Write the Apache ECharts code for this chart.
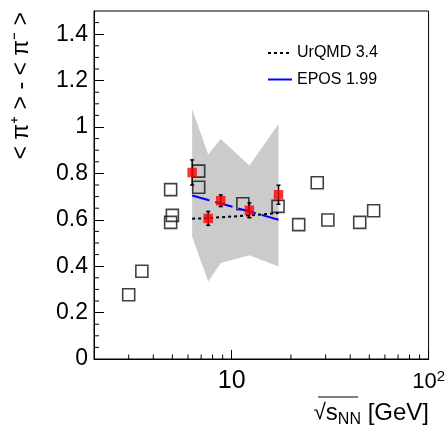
<!DOCTYPE html>
<html><head><meta charset="utf-8">
<script src="https://cdn.jsdelivr.net/npm/echarts@6/dist/echarts.min.js"></script>
<style>html,body{margin:0;padding:0;background:#fff}#c{width:448px;height:432px}</style>
</head><body><div id="c"></div>
<script>
// ---- data ----
const otherX = [3.0, 3.5, 4.9, 5.0, 4.9, 6.8, 6.8, 11.4, 17.2, 21.9, 27.2, 30.8, 44.7, 52.6];
const otherY = [0.277, 0.378, 0.730, 0.619, 0.589, 0.810, 0.740, 0.669, 0.658, 0.579, 0.760, 0.599, 0.589, 0.639];
const na49X = [6.3, 7.6, 8.8, 12.3, 17.3];
const na49Y = [0.804, 0.606, 0.682, 0.641, 0.708];
const na49Err = [0.054, 0.030, 0.025, 0.032, 0.041];
const bandUpper = [1.078, 0.881, 0.948, 0.834, 1.013];
const bandLower = [0.528, 0.334, 0.414, 0.447, 0.399];
const urqmdY = [0.605, 0.607, 0.611, 0.619, 0.629];
const eposY = [0.705, 0.685, 0.670, 0.636, 0.600];
const xMinorTicks = [3, 4, 5, 6, 7, 8, 9, 20, 30, 40, 50, 60, 70, 80, 90];
const yMinorTicks = [0.05,0.1,0.15,0.25,0.3,0.35,0.45,0.5,0.55,0.65,0.7,0.75,0.85,0.9,0.95,1.05,1.1,1.15,1.25,1.3,1.35,1.45];

const FONT = '"Liberation Sans", Arial, Helvetica, sans-serif';
const chart = echarts.init(document.getElementById('c'), null, {renderer: 'canvas'});

function tickSeries(vals, isX) {
  return {
    type: 'custom', silent: true, clip: false, z: 5,
    data: vals.map(v => isX ? [v, 0] : [2, v]),
    renderItem: (params, api) => {
      const p = api.coord([api.value(0), api.value(1)]);
      const shape = isX ? {x1: p[0], y1: p[1], x2: p[0], y2: p[1] - 4.5}
                        : {x1: p[0], y1: p[1], x2: p[0] + 5, y2: p[1]};
      return {type: 'line', shape, style: {stroke: '#000', lineWidth: 1}};
    }
  };
}

const option = {
  animation: false,
  backgroundColor: '#fff',
  grid: {left: 94, right: 19, top: 11, bottom: 73, show: true, borderColor: '#000', borderWidth: 1, backgroundColor: 'transparent'},
  xAxis: {
    type: 'log', logBase: 10, min: 2, max: 100,
    axisLine: {lineStyle: {color: '#000', width: 1}},
    axisTick: {inside: true, length: 9, lineStyle: {color: '#000'}},
    splitLine: {show: false},
    axisLabel: {
      color: '#000', fontFamily: FONT, fontSize: 25, margin: 10,
      formatter: v => Math.abs(v - 10) < 0.01 ? '10' : (Math.abs(v - 100) < 0.1 ? '{m|10}{s|2}' : ''),
      rich: {m: {fontSize: 22, fontFamily: FONT, color: '#000'}, s: {fontSize: 15, fontFamily: FONT, color: '#000', verticalAlign: 'top', padding: [0,0,10,0]}}
    }
  },
  yAxis: {
    type: 'value', min: 0, max: 1.5, interval: 0.2,
    axisLine: {show: true, lineStyle: {color: '#000', width: 1}},
    axisTick: {show: true, inside: true, length: 10, lineStyle: {color: '#000'}},
    splitLine: {show: false},
    axisLabel: {color: '#000', fontFamily: FONT, fontSize: 23, margin: 6, showMaxLabel: false}
  },
  legend: {
    data: [{name: 'UrQMD 3.4'}, {name: 'EPOS 1.99', lineStyle: {type: 'solid'}}],
    orient: 'vertical', left: 262, top: 40,
    itemWidth: 24, itemHeight: 12, itemGap: 10.5,
    itemStyle: {opacity: 0},
    textStyle: {fontFamily: FONT, fontSize: 16, color: '#000'}
  },
  graphic: [
    {type: 'text', x: 22, y: 12, rotation: Math.PI / 2,
     style: {text: '< π⁺ > - < π⁻ >', font: '23px ' + FONT, fill: '#000', align: 'right', verticalAlign: 'middle'}},
    {type: 'text', x: 429, y: 413,
     style: {text: '{r|√}{s|s}{n|NN}{g| [GeV]}', fill: '#000', align: 'right', verticalAlign: 'middle',
       rich: {r: {fontSize: 22, fontFamily: FONT, lineHeight: 30}, s: {fontSize: 24, fontFamily: FONT, lineHeight: 30},
              n: {fontSize: 16, fontFamily: FONT, lineHeight: 16, verticalAlign: 'bottom'}, g: {fontSize: 24, fontFamily: FONT, lineHeight: 30}}}},
    {type: 'line', shape: {x1: 318, y1: 397, x2: 358, y2: 397}, style: {stroke: '#000', lineWidth: 1}}
  ],
  series: [
    {
      name: 'band', type: 'custom', silent: true, z: 1,
      data: na49X.map((x, i) => [x, bandUpper[i], bandLower[i]]),
      renderItem: (params, api) => {
        if (params.dataIndex !== 0) return null;
        const pts = [];
        for (let i = 0; i < na49X.length; i++) pts.push(api.coord([na49X[i], bandUpper[i]]));
        for (let i = na49X.length - 1; i >= 0; i--) pts.push(api.coord([na49X[i], bandLower[i]]));
        return {type: 'polygon', shape: {points: pts}, style: {fill: '#cbcbcb', stroke: 'none'}};
      }
    },
    {
      name: 'other', type: 'scatter', symbol: 'rect', symbolSize: 12, z: 3,
      itemStyle: {color: 'rgba(0,0,0,0)', borderColor: '#111', borderWidth: 1.6},
      data: otherX.map((x, i) => [x, otherY[i]])
    },
    {
      name: 'UrQMD 3.4', type: 'line', symbol: 'none', z: 4,
      lineStyle: {color: '#000', width: 2, type: [3, 3]},
      data: na49X.map((x, i) => [x, urqmdY[i]])
    },
    {
      name: 'EPOS 1.99', type: 'line', symbol: 'none', z: 4,
      lineStyle: {color: '#0000ff', width: 2, type: [18, 6]},
      data: na49X.map((x, i) => [x, eposY[i]])
    },
    {
      name: 'err', type: 'custom', silent: true, z: 5,
      data: na49X.map((x, i) => [x, na49Y[i] - na49Err[i], na49Y[i] + na49Err[i]]),
      renderItem: (params, api) => {
        const lo = api.coord([api.value(0), api.value(1)]);
        const hi = api.coord([api.value(0), api.value(2)]);
        const c = 2;
        const st = {stroke: '#000', lineWidth: 1.5};
        return {type: 'group', children: [
          {type: 'line', shape: {x1: lo[0], y1: lo[1], x2: hi[0], y2: hi[1]}, style: st},
          {type: 'line', shape: {x1: lo[0] - c, y1: lo[1], x2: lo[0] + c, y2: lo[1]}, style: st},
          {type: 'line', shape: {x1: hi[0] - c, y1: hi[1], x2: hi[0] + c, y2: hi[1]}, style: st}
        ]};
      }
    },
    {
      name: 'NA49', type: 'scatter', symbol: 'rect', symbolSize: 9.5, z: 6,
      itemStyle: {color: '#ff0000'},
      data: na49X.map((x, i) => [x, na49Y[i]])
    },
    tickSeries(xMinorTicks, true),
    tickSeries(yMinorTicks, false)
  ]
};
chart.setOption(option);
</script>
</body></html>
